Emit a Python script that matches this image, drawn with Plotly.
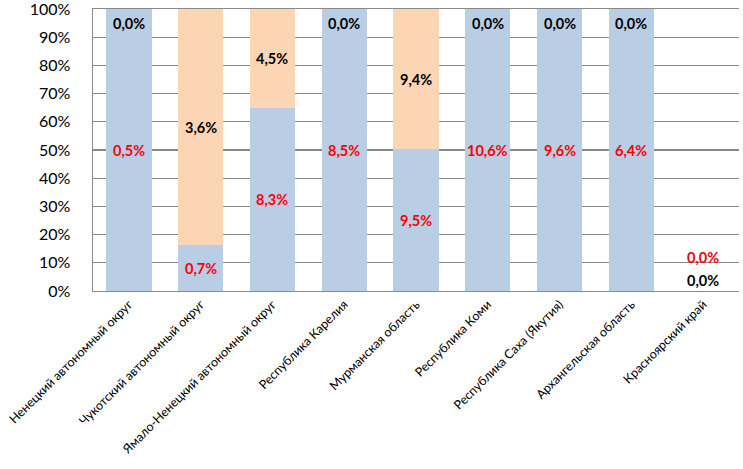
import plotly.graph_objects as go

categories = [
    "Ненецкий автономный округ",
    "Чукотский автономный округ",
    "Ямало-Ненецкий автономный округ",
    "Республика Карелия",
    "Мурманская область",
    "Республика Коми",
    "Республика Саха (Якутия)",
    "Архангельская область",
    "Красноярский край",
]
series_blue = [0.5, 0.7, 8.3, 8.5, 9.5, 10.6, 9.6, 6.4, 0.0]
series_peach = [0.0, 3.6, 4.5, 0.0, 9.4, 0.0, 0.0, 0.0, 0.0]
y_ticks = [0, 10, 20, 30, 40, 50, 60, 70, 80, 90, 100]
y_tick_labels = [f"{v}%" for v in y_ticks]

BLUE = "#B9CDE5"
PEACH = "#FCD5B5"
RED = "#FF0000"
GRID = "#898989"
FONT = "Lato, 'Open Sans', sans-serif"

def fmt(v):
    return f"{v:.1f}%".replace(".", ",")

fig = go.Figure()
fig.add_trace(go.Bar(x=categories, y=series_blue, marker=dict(color=BLUE, line=dict(width=0)),
                     width=0.63, hoverinfo="skip"))
fig.add_trace(go.Bar(x=categories, y=series_peach, marker=dict(color=PEACH, line=dict(width=0)),
                     width=0.63, hoverinfo="skip"))

annotations = []
for i, (cat, b, p) in enumerate(zip(categories, series_blue, series_peach)):
    tot = b + p
    lab_font = dict(family=FONT, size=14.5, color=RED)
    blk_font = dict(family=FONT, size=14.5, color="black")
    if tot == 0:
        annotations.append(dict(x=cat, y=0, text="<b>" + fmt(b) + "</b>", showarrow=False,
                                font=lab_font, yshift=34))
        annotations.append(dict(x=cat, y=0, text="<b>" + fmt(p) + "</b>", showarrow=False,
                                font=blk_font, yshift=11))
        continue
    bp = b / tot * 100
    annotations.append(dict(x=cat, y=bp / 2, text="<b>" + fmt(b) + "</b>", showarrow=False,
                            font=lab_font))
    if p == 0:
        annotations.append(dict(x=cat, y=100, text="<b>" + fmt(p) + "</b>", showarrow=False,
                                font=blk_font, yshift=-14))
    else:
        annotations.append(dict(x=cat, y=(bp + 100) / 2, text="<b>" + fmt(p) + "</b>",
                                showarrow=False, font=blk_font))

fig.update_layout(
    barmode="stack",
    barnorm="percent",
    width=743,
    height=469,
    margin=dict(l=93, r=4, t=9, b=178, autoexpand=False),
    paper_bgcolor="white",
    plot_bgcolor="white",
    showlegend=False,
    annotations=annotations,
    font=dict(family=FONT, color="black"),
    xaxis=dict(
        tickangle=-45,
        tickfont=dict(family=FONT, size=12.5, color="black"),
        showline=True, mirror=True, linecolor=GRID, linewidth=1.3,
        showgrid=False, ticks="", automargin=False, layer="below traces",
    ),
    yaxis=dict(
        range=[0, 100],
        tickmode="array",
        tickvals=y_ticks,
        ticktext=y_tick_labels,
        ticklabeloverflow="allow",
        tickfont=dict(family=FONT, size=16, color="black"),
        showline=True, linecolor=GRID, linewidth=1.5,
        showgrid=True, gridcolor=GRID, gridwidth=1.2,
        ticks="", zeroline=False, automargin=False,
        ticklabelstandoff=18,
    ),
)

fig.write_html(
    "out.html",
    config={"displayModeBar": False, "staticPlot": True},
    post_script="document.body.style.margin='0px';document.body.style.padding='0px';",
)
